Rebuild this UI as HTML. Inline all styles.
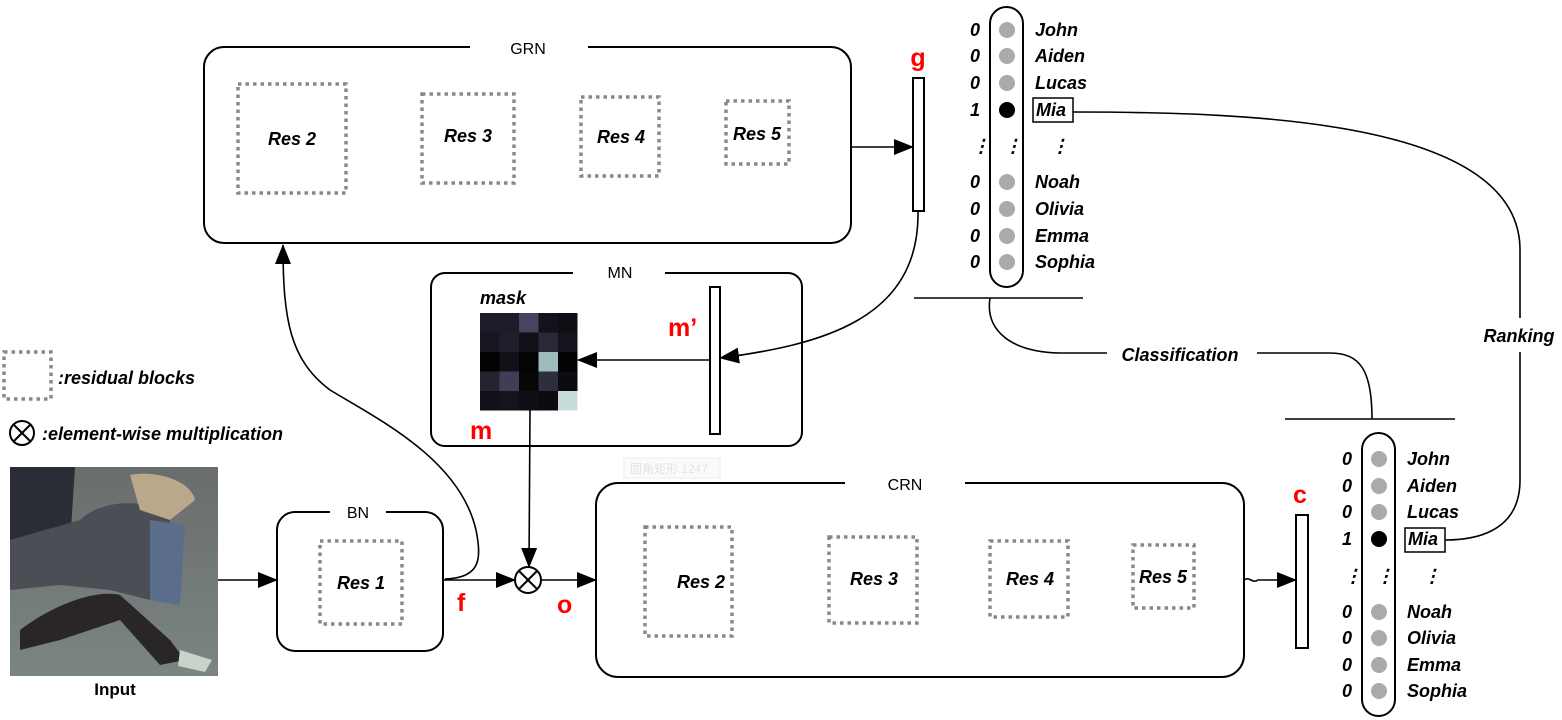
<!DOCTYPE html>
<html><head><meta charset="utf-8"><style>
html,body{margin:0;padding:0;background:#fff;}
svg{display:block;}
text{font-family:"Liberation Sans",sans-serif;}
.t{font-weight:bold;font-style:italic;font-size:18px;}
.r{fill:#ff0000;font-weight:bold;font-size:25px;}
.box{fill:none;stroke:#000;stroke-width:2;}
.dot{fill:none;stroke:#888;stroke-width:3.5;stroke-dasharray:3.5 4;}
.ln{fill:none;stroke:#000;stroke-width:1.6;}
</style></head><body>
<svg width="1562" height="720" viewBox="0 0 1562 720" xmlns="http://www.w3.org/2000/svg">
<defs><marker id="a" markerWidth="12" markerHeight="12" refX="11" refY="6" orient="auto" markerUnits="userSpaceOnUse"><path d="M0,0 L12,6 L0,12 z" fill="#000"/></marker>
<marker id="b" markerWidth="20" markerHeight="20" refX="19" refY="8" orient="auto" markerUnits="userSpaceOnUse"><path d="M0,0 L20,8 L0,16 z" fill="#000"/></marker></defs>

<!-- GRN -->
<rect class="box" x="204" y="47" width="647" height="196" rx="20"/>
<rect x="470" y="40" width="118" height="14" fill="#fff"/>
<text x="528" y="54" font-size="16" text-anchor="middle">GRN</text>
<rect class="dot" x="238" y="84" width="108" height="109"/>
<rect class="dot" x="422" y="94" width="92" height="89"/>
<rect class="dot" x="581" y="97" width="78" height="79"/>
<rect class="dot" x="726" y="101" width="63" height="63"/>
<text class="t" x="292" y="145" text-anchor="middle">Res 2</text>
<text class="t" x="468" y="142" text-anchor="middle">Res 3</text>
<text class="t" x="621" y="143" text-anchor="middle">Res 4</text>
<text class="t" x="757" y="140" text-anchor="middle">Res 5</text>
<line class="ln" x1="851" y1="147" x2="913" y2="147" marker-end="url(#b)"/>
<rect x="913" y="78" width="11" height="133" fill="#fff" stroke="#000" stroke-width="2"/>
<text class="r" x="918" y="66" text-anchor="middle">g</text>

<!-- top list -->
<rect class="box" x="990" y="7" width="33" height="280" rx="16.5"/>
<g font-weight="bold" font-style="italic" font-size="18">
<g fill="#aaa"><circle cx="1007" cy="30" r="8"/><circle cx="1007" cy="56" r="8"/><circle cx="1007" cy="83" r="8"/><circle cx="1007" cy="182" r="8"/><circle cx="1007" cy="209" r="8"/><circle cx="1007" cy="236" r="8"/><circle cx="1007" cy="262" r="8"/></g>
<circle cx="1007" cy="110" r="8" fill="#000"/>
<text x="975" y="36" text-anchor="middle">0</text><text x="975" y="62" text-anchor="middle">0</text><text x="975" y="89" text-anchor="middle">0</text><text x="975" y="116" text-anchor="middle">1</text>
<text x="975" y="188" text-anchor="middle">0</text><text x="975" y="215" text-anchor="middle">0</text><text x="975" y="242" text-anchor="middle">0</text><text x="975" y="268" text-anchor="middle">0</text>
<text x="1035" y="36">John</text><text x="1035" y="62">Aiden</text><text x="1035" y="89">Lucas</text><text x="1036" y="116">Mia</text>
<text x="1035" y="188">Noah</text><text x="1035" y="215">Olivia</text><text x="1035" y="242">Emma</text><text x="1035" y="268">Sophia</text>
<text x="981" y="152" text-anchor="middle">⋮</text><text x="1013" y="152" text-anchor="middle">⋮</text><text x="1060" y="152" text-anchor="middle">⋮</text>
</g>
<rect x="1033" y="98" width="40" height="24" fill="none" stroke="#000" stroke-width="1.5"/>
<line x1="914" y1="298" x2="1083" y2="298" stroke="#000" stroke-width="1.6"/>

<!-- MN -->
<rect class="box" x="431" y="273" width="371" height="173" rx="14"/>
<rect x="573" y="265" width="92" height="14" fill="#fff"/>
<text x="620" y="278" font-size="16" text-anchor="middle">MN</text>
<text class="t" x="480" y="304" font-size="16">mask</text>
<g>
<rect x="480" y="313" width="19.5" height="19.5" fill="#1e1c2a"/><rect x="499.5" y="313" width="19.5" height="19.5" fill="#1e1c2a"/><rect x="519" y="313" width="19.5" height="19.5" fill="#474461"/><rect x="538.5" y="313" width="19.5" height="19.5" fill="#13121a"/><rect x="558" y="313" width="19.5" height="19.5" fill="#0e0e14"/>
<rect x="480" y="332.5" width="19.5" height="19.5" fill="#17161f"/><rect x="499.5" y="332.5" width="19.5" height="19.5" fill="#201e2b"/><rect x="519" y="332.5" width="19.5" height="19.5" fill="#111018"/><rect x="538.5" y="332.5" width="19.5" height="19.5" fill="#292738"/><rect x="558" y="332.5" width="19.5" height="19.5" fill="#15141c"/>
<rect x="480" y="352" width="19.5" height="19.5" fill="#030303"/><rect x="499.5" y="352" width="19.5" height="19.5" fill="#121117"/><rect x="519" y="352" width="19.5" height="19.5" fill="#040404"/><rect x="538.5" y="352" width="19.5" height="19.5" fill="#9fbcbc"/><rect x="558" y="352" width="19.5" height="19.5" fill="#030303"/>
<rect x="480" y="371.5" width="19.5" height="19.5" fill="#25232f"/><rect x="499.5" y="371.5" width="19.5" height="19.5" fill="#403e55"/><rect x="519" y="371.5" width="19.5" height="19.5" fill="#07070a"/><rect x="538.5" y="371.5" width="19.5" height="19.5" fill="#2f2d40"/><rect x="558" y="371.5" width="19.5" height="19.5" fill="#0b0b10"/>
<rect x="480" y="391" width="19.5" height="19.5" fill="#111018"/><rect x="499.5" y="391" width="19.5" height="19.5" fill="#15141c"/><rect x="519" y="391" width="19.5" height="19.5" fill="#0f0e14"/><rect x="538.5" y="391" width="19.5" height="19.5" fill="#0b0b10"/><rect x="558" y="391" width="19.5" height="19.5" fill="#c9dcdc"/>
</g>
<text class="r" x="668" y="336">m’</text>
<rect x="710" y="287" width="10" height="147" fill="#fff" stroke="#000" stroke-width="2"/>
<line class="ln" x1="710" y1="360" x2="578" y2="360" marker-end="url(#b)"/>
<path class="ln" d="M918,211 C920,320 820,345 720,358" marker-end="url(#b)"/>
<text class="r" x="470" y="439">m</text>

<!-- legend -->
<rect class="dot" x="4" y="352" width="47" height="47"/>
<text class="t" x="58" y="384" font-size="17">:residual blocks</text>
<circle cx="22" cy="433" r="12" fill="#fff" stroke="#000" stroke-width="2"/>
<path d="M13.5,424.5 L30.5,441.5 M30.5,424.5 L13.5,441.5" stroke="#000" stroke-width="2"/>
<text class="t" x="42" y="440" font-size="17">:element-wise multiplication</text>

<!-- input image -->
<defs><linearGradient id="g1" x1="0" y1="0" x2="0" y2="1"><stop offset="0" stop-color="#6a6d6d"/><stop offset="1" stop-color="#7a8582"/></linearGradient></defs>
<rect x="10" y="467" width="208" height="209" fill="url(#g1)"/>
<path d="M10,467 L75,467 L70,545 L30,555 L10,540 z" fill="#2a2d35"/>
<path d="M80,520 C100,500 150,495 170,520 L175,590 L150,600 L110,590 L60,585 L10,590 L10,540 z" fill="#4c4e55"/>
<path d="M130,475 C150,470 190,478 195,500 L170,520 L140,510 z" fill="#b9a88c"/>
<path d="M150,520 L185,525 L180,605 L150,600 z" fill="#5a6e8c"/>
<path d="M20,630 C60,600 100,590 120,595 L170,640 L185,660 L160,665 L120,620 L60,640 L20,650 z" fill="#2a2529"/>
<path d="M180,650 L212,660 L205,672 L178,666 z" fill="#c9d2c9"/>
<text x="115" y="695" font-size="17" font-weight="bold" text-anchor="middle">Input</text>
<line class="ln" x1="218" y1="580" x2="277" y2="580" marker-end="url(#b)"/>

<!-- BN -->
<rect class="box" x="277" y="512" width="166" height="139" rx="18"/>
<rect x="330" y="505" width="56" height="14" fill="#fff"/>
<text x="358" y="518" font-size="16" text-anchor="middle">BN</text>
<rect class="dot" x="320" y="541" width="82" height="83"/>
<text class="t" x="361" y="589" text-anchor="middle">Res 1</text>
<text class="r" x="457" y="611">f</text>
<line class="ln" x1="443" y1="580" x2="515" y2="580" marker-end="url(#b)"/>
<path class="ln" d="M445,579 C480,578 482,560 476,530 C460,460 380,420 330,390 C290,360 283,320 283,245" marker-end="url(#b)"/>
<circle cx="528" cy="580" r="13" fill="#fff" stroke="#000" stroke-width="2"/>
<path d="M519,571 L537,589 M537,571 L519,589" stroke="#000" stroke-width="2"/>
<line class="ln" x1="530" y1="410" x2="529" y2="567" marker-end="url(#b)"/>
<text class="r" x="557" y="613">o</text>
<line class="ln" x1="541" y1="580" x2="596" y2="580" marker-end="url(#b)"/>

<!-- faint label -->
<rect x="624" y="458" width="96" height="20" fill="#fbfbfb" stroke="#eee"/>
<text x="630" y="473" font-size="12" fill="#e2e2e2" font-family="Noto Sans CJK SC,sans-serif">圆角矩形.1247</text>

<!-- CRN -->
<rect class="box" x="596" y="483" width="648" height="194" rx="22"/>
<rect x="845" y="476" width="120" height="14" fill="#fff"/>
<text x="905" y="490" font-size="16" text-anchor="middle">CRN</text>
<rect class="dot" x="645" y="527" width="87" height="109"/>
<rect class="dot" x="829" y="537" width="88" height="86"/>
<rect class="dot" x="990" y="541" width="78" height="76"/>
<rect class="dot" x="1133" y="545" width="61" height="63"/>
<text class="t" x="701" y="588" text-anchor="middle">Res 2</text>
<text class="t" x="874" y="585" text-anchor="middle">Res 3</text>
<text class="t" x="1030" y="585" text-anchor="middle">Res 4</text>
<text class="t" x="1163" y="583" text-anchor="middle">Res 5</text>
<path class="ln" d="M1244,580 C1250,576 1252,584 1258,580 L1296,580" marker-end="url(#b)"/>
<rect x="1296" y="515" width="12" height="133" fill="#fff" stroke="#000" stroke-width="2"/>
<text class="r" x="1300" y="503" text-anchor="middle">c</text>

<!-- bottom list -->
<rect class="box" x="1362" y="433" width="33" height="283" rx="16.5"/>
<g font-weight="bold" font-style="italic" font-size="18">
<g fill="#aaa"><circle cx="1379" cy="459" r="8"/><circle cx="1379" cy="486" r="8"/><circle cx="1379" cy="512" r="8"/><circle cx="1379" cy="612" r="8"/><circle cx="1379" cy="638" r="8"/><circle cx="1379" cy="665" r="8"/><circle cx="1379" cy="691" r="8"/></g>
<circle cx="1379" cy="539" r="8" fill="#000"/>
<text x="1347" y="465" text-anchor="middle">0</text><text x="1347" y="492" text-anchor="middle">0</text><text x="1347" y="518" text-anchor="middle">0</text><text x="1347" y="545" text-anchor="middle">1</text>
<text x="1347" y="618" text-anchor="middle">0</text><text x="1347" y="644" text-anchor="middle">0</text><text x="1347" y="671" text-anchor="middle">0</text><text x="1347" y="697" text-anchor="middle">0</text>
<text x="1407" y="465">John</text><text x="1407" y="492">Aiden</text><text x="1407" y="518">Lucas</text><text x="1408" y="545">Mia</text>
<text x="1407" y="618">Noah</text><text x="1407" y="644">Olivia</text><text x="1407" y="671">Emma</text><text x="1407" y="697">Sophia</text>
<text x="1353" y="582" text-anchor="middle">⋮</text><text x="1385" y="582" text-anchor="middle">⋮</text><text x="1432" y="582" text-anchor="middle">⋮</text>
</g>
<rect x="1405" y="528" width="40" height="24" fill="none" stroke="#000" stroke-width="1.5"/>
<line x1="1285" y1="419" x2="1455" y2="419" stroke="#000" stroke-width="1.6"/>

<!-- classification -->
<path class="ln" d="M990,298 C985,330 1010,352 1060,353 L1107,353"/>
<path class="ln" d="M1257,353 L1330,353 C1360,353 1372,370 1372,419"/>
<text class="t" x="1180" y="361" text-anchor="middle" font-size="17">Classification</text>

<!-- ranking -->
<path class="ln" d="M1073,112 C1250,112 1520,120 1520,250 L1520,318"/>
<path class="ln" d="M1520,352 L1520,480 C1520,535 1470,540 1445,540"/>
<text class="t" x="1519" y="342" text-anchor="middle" font-size="17">Ranking</text>
</svg>
</body></html>
